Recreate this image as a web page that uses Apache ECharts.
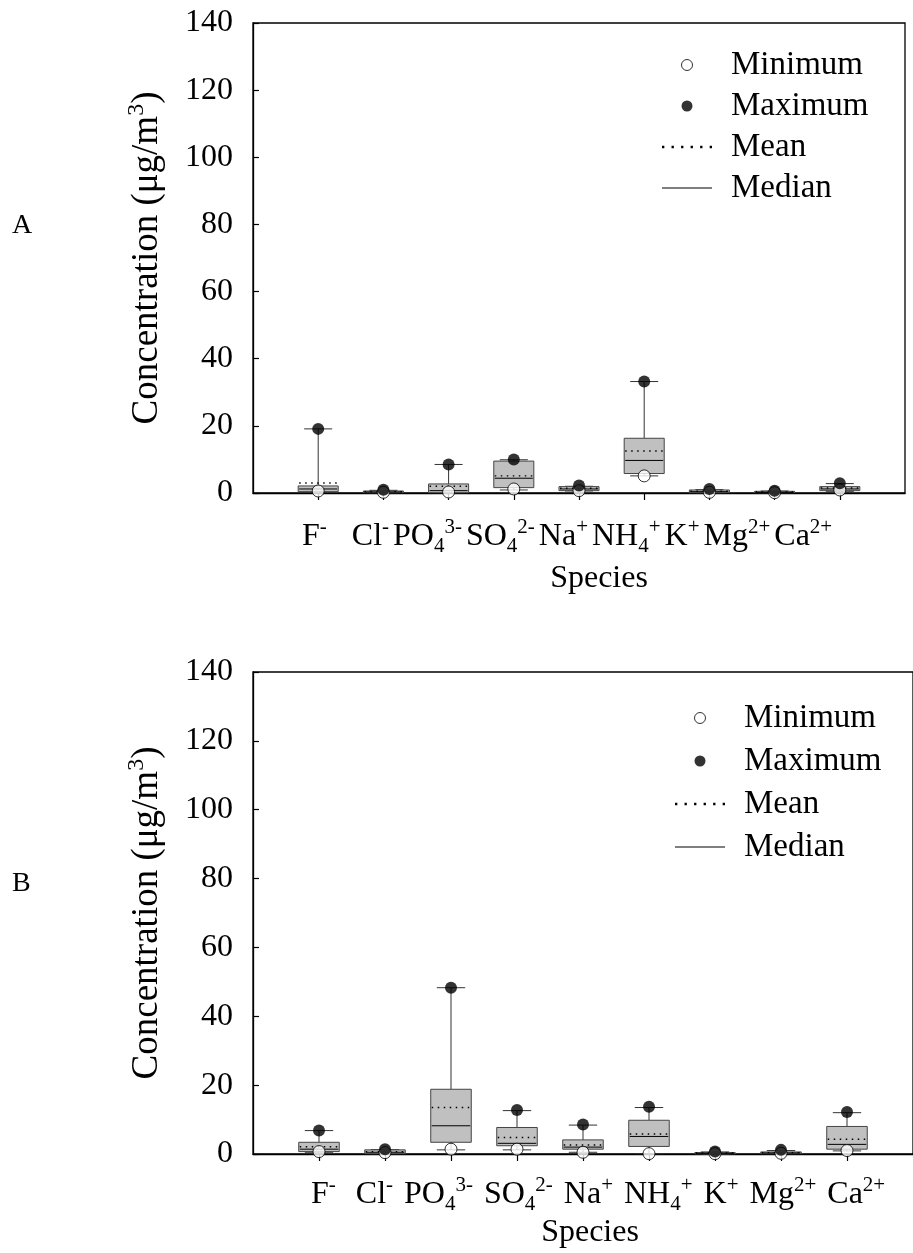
<!DOCTYPE html>
<html>
<head>
<meta charset="utf-8">
<script src="https://cdn.jsdelivr.net/npm/echarts@6.0.0/dist/echarts.min.js"></script>
<style>
html,body{margin:0;padding:0;background:#fff;}
#chart{width:913px;height:1253px;}
</style>
</head>
<body>
<div id="chart"></div>
<script>
// ---- tick labels (species) ----
const speciesBase = ['F', 'Cl', 'PO', 'SO', 'Na', 'NH', 'K', 'Mg', 'Ca'];
const speciesSub  = ['', '', '4', '4', '', '4', '', '', ''];
const speciesSup  = ['-', '-', '3-', '2-', '+', '+', '+', '2+', '2+'];
const yTicks = [0, 20, 40, 60, 80, 100, 120, 140];

// ---- Panel A ----
const minA   = [0.6, 0.2, 0.3, 1.2, 0.7, 5.1, 0.2, 0.1, 0.9];
const maxA   = [19.1, 1.0, 8.5, 10.0, 2.2, 33.2, 1.2, 0.7, 2.9];
const wLowA  = [0.3, 0.1, 0.1, 0.9, 0.6, 5.1, 0.1, 0.1, 0.5];
const q1A    = [0.4, 0.1, 0.1, 1.6, 0.7, 5.8, 0.1, 0.1, 0.7];
const medA   = [1.2, 0.3, 0.7, 4.4, 1.2, 9.7, 0.4, 0.2, 1.2];
const q3A    = [2.1, 0.6, 2.7, 9.5, 1.9, 16.3, 0.9, 0.5, 1.9];
const wHighA = [19.1, 0.8, 8.5, 9.9, 2.0, 33.2, 1.0, 0.6, 2.8];
const meanA  = [3.0, 0.4, 2.0, 5.1, 1.4, 12.5, 0.5, 0.3, 1.5];

// ---- Panel B ----
const minB   = [0.7, 0.4, 1.4, 1.4, 0.5, 0.1, 0.1, 0.2, 1.0];
const maxB   = [6.8, 1.4, 48.3, 12.8, 8.6, 13.7, 0.7, 1.2, 12.2];
const wLowB  = [0.5, 0.1, 1.2, 1.2, 0.5, 0.1, 0.0, 0.1, 0.9];
const q1B    = [0.7, 0.1, 3.4, 2.4, 1.4, 2.2, 0.05, 0.1, 1.4];
const medB   = [1.4, 0.5, 8.2, 3.1, 2.0, 5.1, 0.2, 0.3, 2.8];
const q3B    = [3.4, 1.2, 18.8, 7.7, 4.1, 9.8, 0.4, 0.6, 8.0];
const wHighB = [6.8, 1.3, 48.3, 12.6, 8.4, 13.5, 0.6, 1.0, 12.0];
const meanB  = [2.1, 0.7, 13.5, 4.8, 2.6, 5.8, 0.3, 0.4, 4.3];

const FONT = '"Liberation Serif", "Times New Roman", serif';
const positions = speciesBase.map((_, i) => i + 1);

// species label line (one text line under the axis, as in the original figure)
function speciesLine() {
  return speciesBase.map((b, i) => {
    let s = '{b|' + b + '}';
    if (speciesSub[i]) s += '{sub|' + speciesSub[i] + '}';
    if (speciesSup[i]) s += '{sup|' + speciesSup[i] + '}';
    if (i < speciesBase.length - 1) s += (i === 0 ? '{g0| }' : '{g| }');
    return s;
  }).join('');
}
function labelRich(gap0, gap) {
  return {
    b:   { fontFamily: FONT, fontSize: 32, lineHeight: 40, fill: '#000', verticalAlign: 'middle' },
    sub: { fontFamily: FONT, fontSize: 21, lineHeight: 21, fill: '#000', verticalAlign: 'bottom' },
    sup: { fontFamily: FONT, fontSize: 21, lineHeight: 21, fill: '#000', verticalAlign: 'top' },
    g0:  { fontFamily: FONT, fontSize: 32, lineHeight: 40, width: gap0 },
    g:   { fontFamily: FONT, fontSize: 32, lineHeight: 40, width: gap }
  };
}

function xAxisFor(gi, nameGap, namePadLeft) {
  return {
    gridIndex: gi, type: 'value', min: 0, max: 10, interval: 1,
    axisLine: { lineStyle: { color: '#000', width: 1.3 } },
    axisTick: { customValues: positions, length: 7, inside: false, lineStyle: { color: '#000', width: 1.2 } },
    axisLabel: { show: false },
    splitLine: { show: false },
    name: 'Species', nameLocation: 'middle', nameGap: nameGap, nameMoveOverlap: false,
    nameTextStyle: { fontFamily: FONT, fontSize: 32, lineHeight: 36, color: '#000', padding: [0, 0, 0, namePadLeft] }
  };
}
function yAxisFor(gi) {
  return {
    gridIndex: gi, type: 'value', min: 0, max: 140, interval: 20,
    axisLine: { show: true, lineStyle: { color: '#000', width: 1.3 } },
    axisTick: { show: true, inside: true, length: 6, lineStyle: { color: '#000', width: 1.2 } },
    axisLabel: { fontFamily: FONT, fontSize: 32, color: '#000', margin: 20,
      formatter: v => (yTicks.indexOf(v) >= 0 ? String(v) : '') },
    splitLine: { show: false },
    name: '{t|Concentration (μg/m}{s|3}{t|)}', nameLocation: 'middle', nameGap: 84, nameMoveOverlap: false,
    nameTextStyle: {
      color: '#000',
      rich: {
        t: { fontFamily: FONT, fontSize: 37, lineHeight: 44, color: '#000', verticalAlign: 'middle' },
        s: { fontFamily: FONT, fontSize: 24, lineHeight: 24, color: '#000', verticalAlign: 'top' }
      }
    }
  };
}

function boxData(wl, q1, q3, wh) {
  return positions.map((x, i) => [x, wl[i], q1[i], q3[i], wh[i]]);
}
function lineData(arr) { return positions.map((x, i) => [x, arr[i]]); }
function pointData(arr) { return positions.map((x, i) => [x, arr[i]]); }

function renderBox(params, api) {
  const x = api.value(0);
  const unit = api.size([1, 0])[0];
  const hw = unit * 0.307;
  const cw = unit * 0.215;
  const pL = api.coord([x, api.value(1)]);
  const p1 = api.coord([x, api.value(2)]);
  const p3 = api.coord([x, api.value(3)]);
  const pH = api.coord([x, api.value(4)]);
  const ls = { stroke: '#333', lineWidth: 1 };
  return {
    type: 'group',
    children: [
      { type: 'line', shape: { x1: pH[0], y1: pH[1], x2: p3[0], y2: p3[1] }, style: ls },
      { type: 'line', shape: { x1: pL[0], y1: pL[1], x2: p1[0], y2: p1[1] }, style: ls },
      { type: 'line', shape: { x1: pH[0] - cw, y1: pH[1], x2: pH[0] + cw, y2: pH[1] }, style: ls },
      { type: 'line', shape: { x1: pL[0] - cw, y1: pL[1], x2: pL[0] + cw, y2: pL[1] }, style: ls },
      { type: 'rect', shape: { x: p3[0] - hw, y: p3[1], width: 2 * hw, height: Math.max(p1[1] - p3[1], 0.5) },
        style: { fill: '#c0c0c0', stroke: '#444', lineWidth: 1 } }
    ]
  };
}
function makeLineRenderer(dash) {
  return function (params, api) {
    const x = api.value(0);
    const unit = api.size([1, 0])[0];
    const hw = unit * 0.307;
    const p = api.coord([x, api.value(1)]);
    return { type: 'line', shape: { x1: p[0] - hw + 1, y1: p[1], x2: p[0] + hw - 1, y2: p[1] },
      style: { stroke: '#000', lineWidth: dash ? 1.4 : 1, lineDash: dash || null } };
  };
}

function panelSeries(gi, wl, q1, med, q3, wh, mean, mn, mx) {
  return [
    { name: 'Box', type: 'custom', xAxisIndex: gi, yAxisIndex: gi, renderItem: renderBox,
      data: boxData(wl, q1, q3, wh), encode: { x: 0, y: [1, 2, 3, 4] }, silent: true, z: 2 },
    { name: 'Median', type: 'custom', xAxisIndex: gi, yAxisIndex: gi, renderItem: makeLineRenderer(null),
      data: lineData(med), encode: { x: 0, y: 1 }, silent: true, z: 3, itemStyle: { color: '#000' } },
    { name: 'Mean', type: 'custom', xAxisIndex: gi, yAxisIndex: gi, renderItem: makeLineRenderer([1.5, 4.5]),
      data: lineData(mean), encode: { x: 0, y: 1 }, silent: true, z: 3, itemStyle: { color: '#000' } },
    { name: 'Minimum', type: 'scatter', xAxisIndex: gi, yAxisIndex: gi, data: pointData(mn),
      symbol: 'circle', symbolSize: 12, itemStyle: { color: '#fff', borderColor: '#000', borderWidth: 1 }, z: 4 },
    { name: 'Maximum', type: 'scatter', xAxisIndex: gi, yAxisIndex: gi, data: pointData(mx),
      symbol: 'circle', symbolSize: 12, itemStyle: { color: '#000', borderColor: '#000', borderWidth: 0 }, z: 5 }
  ];
}

const dottedIcon = 'path://' + [0, 9, 18, 27, 36, 45].map(x => 'M' + x + ',0h2.2v2.2h-2.2z').join('');
const solidIcon = 'path://M0,0H50V1.1H0Z';
function legendFor(left, top, gap) {
  return {
    orient: 'vertical', left: left, top: top, padding: 0, itemGap: gap,
    itemWidth: 50, itemHeight: 11, selectedMode: false,
    textStyle: { fontFamily: FONT, fontSize: 33, lineHeight: 34, color: '#000', padding: [0, 0, 0, 14] },
    data: [
      { name: 'Minimum', icon: 'circle', itemStyle: { color: '#fff', borderColor: '#000', borderWidth: 1 } },
      { name: 'Maximum', icon: 'circle', itemStyle: { color: '#000', borderWidth: 0 } },
      { name: 'Mean', icon: dottedIcon, itemStyle: { color: '#000', borderWidth: 0 } },
      { name: 'Median', icon: solidIcon, itemStyle: { color: '#000', borderWidth: 0 } }
    ]
  };
}

const chart = echarts.init(document.getElementById('chart'), null, { renderer: 'canvas' });
chart.setOption({
  backgroundColor: '#fff',
  animation: false,
  grid: [
    { left: 253, top: 23, width: 652, height: 470, show: true, borderColor: '#000', borderWidth: 1.3, backgroundColor: 'transparent' },
    { left: 253, top: 672, width: 668, height: 482, show: true, borderColor: '#000', borderWidth: 1.3, backgroundColor: 'transparent' }
  ],
  xAxis: [xAxisFor(0, 68, 40), xAxisFor(1, 61, 14)],
  yAxis: [yAxisFor(0), yAxisFor(1)],
  legend: [legendFor(662, 48, 7), legendFor(675, 701, 9)],
  graphic: [
    { type: 'text', left: 12, top: 212, style: { text: 'A', fontFamily: FONT, fontSize: 28, fill: '#000' } },
    { type: 'text', left: 12, top: 870, style: { text: 'B', fontFamily: FONT, fontSize: 28, fill: '#000' } },
    { type: 'text', x: 302, y: 537, style: { text: speciesLine(), rich: labelRich(25, 4), verticalAlign: 'middle', align: 'left', fill: '#000' } },
    { type: 'text', x: 311, y: 1195, style: { text: speciesLine(), rich: labelRich(20, 11), verticalAlign: 'middle', align: 'left', fill: '#000' } }
  ],
  series: [].concat(
    panelSeries(0, wLowA, q1A, medA, q3A, wHighA, meanA, minA, maxA),
    panelSeries(1, wLowB, q1B, medB, q3B, wHighB, meanB, minB, maxB)
  )
});
</script>
</body>
</html>
